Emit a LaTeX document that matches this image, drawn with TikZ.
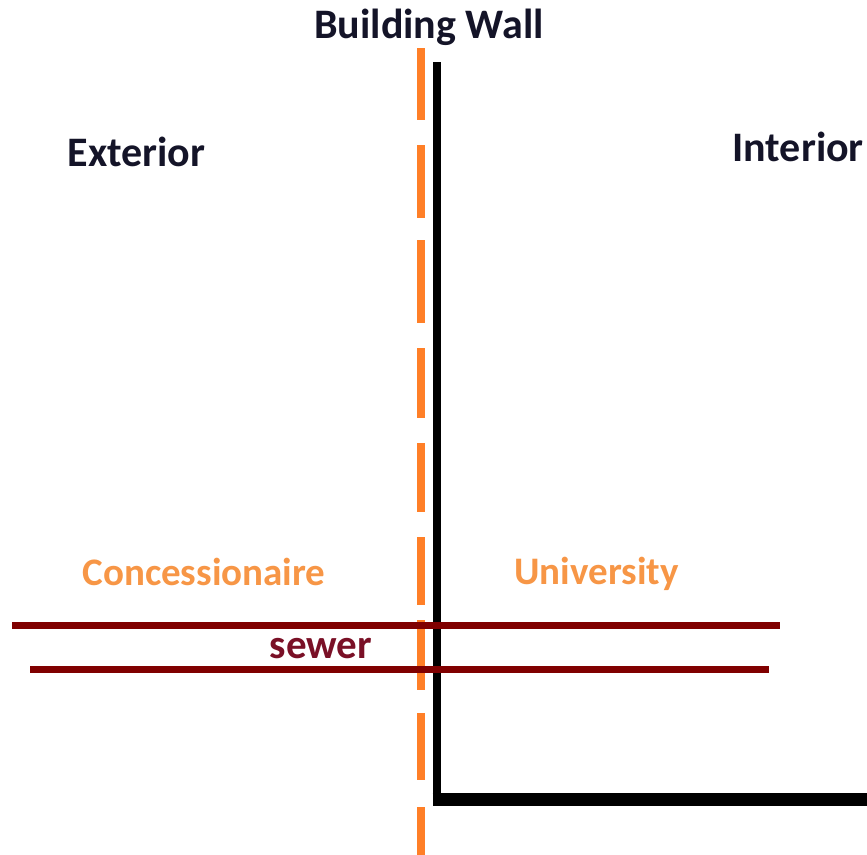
\documentclass[tikz,border=0pt]{standalone}
\usepackage{fontspec}
\setmainfont{Carlito}
\usetikzlibrary{positioning}
\definecolor{wallblack}{RGB}{0,0,0}
\definecolor{limitorange}{RGB}{255,127,39}
\definecolor{partyorange}{RGB}{247,150,70}
\definecolor{pipered}{RGB}{128,0,0}
\definecolor{sewertext}{RGB}{122,16,38}
\definecolor{headtext}{RGB}{20,20,40}
\tikzset{
    wall/.style={line width=8pt, wallblack},
    floorwall/.style={line width=13pt, wallblack},
    limit/.style={line width=8pt, limitorange},
    pipe/.style={line width=7pt, pipered},
    heading/.style={font=\fontsize{42}{48}\selectfont\bfseries, text=headtext, inner sep=0pt},
    party/.style={font=\fontsize{39}{45}\selectfont\bfseries, text=partyorange, inner sep=0pt},
    pipelabel/.style={font=\fontsize{41}{47}\selectfont\bfseries, text=sewertext, inner sep=0pt}
}

\begin{document}
\begin{tikzpicture}[x=1pt,y=-1pt]
    \useasboundingbox (0,0) rectangle (867,854);
    \clip (0,0) rectangle (867,854);
    % property limit
    \foreach \a/\b in {48/120,145/218,240/323,348/418,443/512,537/605,620/690,713/780,807/860}{
        \draw[limit] (421,\a) -- (421,\b);
    }
    % building wall
    \coordinate (walltop) at (436.5,62);
    \coordinate (wallfoot) at (436.5,806);
    \draw[wall] (walltop) -- (wallfoot);
    \draw[floorwall] (432.5,799.5) -- (870,799.5);
    % sewer
    \draw[pipe] (12,625.5) -- (780,625.5);
    \draw[pipe] (30,669.5) -- (769,669.5);
    \node[heading, anchor=base] (wallname) at (429,38) {Building Wall};
    \node[heading, anchor=base] (exterior) at (136.5,166) {Exterior};
    \node[heading, anchor=base east] (interior) at (864,161) {Interior};
    \node[party, anchor=base] (concession) at (204,585) {Concessionaire};
    \node[party, anchor=base] (university) at (596.5,584) {University};
    \node[pipelabel, anchor=base] (sewer) at (321,658) {sewer};
\end{tikzpicture}
\end{document}
